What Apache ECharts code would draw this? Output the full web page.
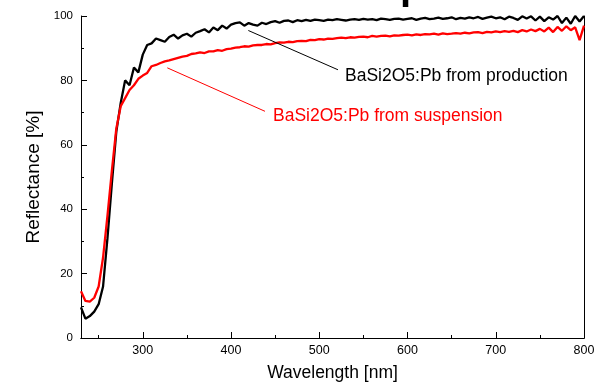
<!DOCTYPE html>
<html><head><meta charset="utf-8">
<script src="https://cdn.jsdelivr.net/npm/echarts@6/dist/echarts.min.js"></script>
<style>html,body{margin:0;padding:0;background:#fff}#c{width:602px;height:387px}</style>
</head><body><div id="c"></div>
<script>
// Wavelength [nm]
const wavelengths = [
 230,235,240,245,250,255,260,265,270,275,
 280,285,290,295,300,305,310,315,320,325,
 330,335,340,345,350,355,360,365,370,375,
 380,385,390,395,400,405,410,415,420,425,
 430,435,440,445,450,455,460,465,470,475,
 480,485,490,495,500,505,510,515,520,525,
 530,535,540,545,550,555,560,565,570,575,
 580,585,590,595,600,605,610,615,620,625,
 630,635,640,645,650,655,660,665,670,675,
 680,685,690,695,700,705,710,715,720,725,
 730,735,740,745,750,755,760,765,770,775,
 780,785,790,795,800];
// BaSi2O5:Pb from production (black)
const production = [
 9.5,6.0,6.8,8.2,10.5,16,31,48,64,73,
 80,78.5,84,82.5,88,91,91.5,93,92.5,92,
 93.5,94.2,93.0,94.0,94.5,93.6,94.8,95.3,95.9,94.9,
 96.4,95.6,97.0,96.1,97.3,97.8,98.0,97.0,97.8,97.3,
 97.0,97.9,97.5,98.1,98.4,97.9,98.5,98.6,98.1,98.7,
 98.4,98.8,98.5,98.9,98.7,98.5,98.9,98.7,99,98.8,
 98.6,98.9,99,98.8,99.1,98.9,99,98.7,99.2,99,
 98.8,99.1,99.2,98.9,99.1,99.3,98.8,99.2,99.4,99,
 99.2,99.5,99.1,99.3,99.6,99,99.4,99.2,99.6,99.3,
 99.7,99.1,99.5,99.8,99.3,99.6,99,99.8,99.4,98.8,
 99.9,99.2,99.9,98.6,99.8,98.4,99.6,98.9,100,97.8,
 99.5,97.6,100,98.3,100];
// BaSi2O5:Pb from suspension (red)
const suspension = [
 14.5,11.5,11.3,12.5,16,25,38,52,65,72,
 74.5,77,78.5,80.5,81.5,82.3,84.4,84.8,85.4,85.9,
 86.2,86.6,87,87.4,87.6,88.2,88.4,88.7,88.5,89,
 89,89.4,89.2,89.7,89.9,90.2,90.3,90.6,90.5,90.9,
 91,91,91.3,91.2,91.6,91.8,91.7,92,91.9,92.2,
 92.3,92.2,92.6,92.5,92.8,92.7,93,92.9,93.1,93.3,
 93.1,93.4,93.3,93.5,93.6,93.4,93.8,93.6,93.8,93.9,
 93.7,94,93.9,94.1,94.2,94,94.3,94.1,94.4,94.3,
 94.5,94.2,94.6,94.4,94.5,94.7,94.5,94.8,94.6,94.9,
 95,94.7,95.1,94.9,95.2,95,95.3,95.1,95.4,95,
 95.6,95.2,95.8,95.3,96,95.2,96.4,95,96.6,95.4,
 96.8,95.6,96.5,92.5,97];
const xMajorTicks = [300,400,500,600,700,800];
const xMinorTicks = [250,350,450,550,650,750];
const seriesNames = ['BaSi2O5:Pb from production','BaSi2O5:Pb from suspension'];
// leader lines for labels (data coordinates)
const productionLeader = [[419.6,95.5],[521.2,83.3]];
const suspensionLeader = [[327.8,83.9],[438.5,70.4]];

const FONT = 'Liberation Sans, Arial, sans-serif';
const X_MIN = 230, X_MAX = 800;
const chart = echarts.init(document.getElementById('c'), null, {renderer:'canvas'});
const zip = (xs, ys) => xs.map((x,i)=>[x, ys[i]]);

const baseX = {type:'value', min:X_MIN, max:X_MAX, splitLine:{show:false}};
chart.setOption({
  animation:false,
  backgroundColor:'#fff',
  grid:{left:81, right:18, top:16, bottom:48},
  xAxis:[
    Object.assign({}, baseX, {
      position:'bottom',
      name:'Wavelength [nm]', nameLocation:'middle', nameGap:26,
      nameTextStyle:{fontFamily:FONT, fontSize:17.5, color:'#000'},
      axisLine:{lineStyle:{color:'#000', width:1}},
      axisTick:{inside:true, length:6, customValues:xMajorTicks, lineStyle:{color:'#000'}},
      axisLabel:{customValues:xMajorTicks, fontFamily:FONT, fontSize:12.5, color:'#000', margin:6}
    }),
    Object.assign({}, baseX, {
      position:'top',
      axisLine:{lineStyle:{color:'#000', width:1}},
      axisTick:{show:false}, axisLabel:{show:false}
    }),
    Object.assign({}, baseX, {
      position:'bottom',
      axisLine:{show:false},
      axisTick:{inside:true, length:3, customValues:xMinorTicks, lineStyle:{color:'#000'}},
      axisLabel:{show:false}
    })
  ],
  yAxis:[
    {type:'value', min:0, max:100, interval:20, position:'left',
     name:'Reflectance [%]', nameLocation:'middle', nameGap:37,
     nameTextStyle:{fontFamily:FONT, fontSize:19, color:'#000'},
     splitLine:{show:false},
     axisLine:{show:true, lineStyle:{color:'#000', width:1}},
     axisTick:{inside:true, length:6, lineStyle:{color:'#000'}},
     minorTick:{show:true, splitNumber:2, length:3, lineStyle:{color:'#000'}},
     axisLabel:{fontFamily:FONT, fontSize:11.5, color:'#000', margin:8}
    },
    {type:'value', min:0, max:100, position:'right',
     splitLine:{show:false},
     axisLine:{show:true, lineStyle:{color:'#000', width:1}},
     axisTick:{show:false}, axisLabel:{show:false}
    }
  ],
  series:[
    {name:seriesNames[0], type:'line', data:zip(wavelengths, production), showSymbol:false,
     lineStyle:{color:'#000', width:2.3}, itemStyle:{color:'#000'},
     markLine:{silent:true, symbol:'none', label:{show:false},
       lineStyle:{color:'#000', width:1, type:'solid'},
       data:[[{coord:productionLeader[0]},{coord:productionLeader[1]}]]}
    },
    {name:seriesNames[1], type:'line', data:zip(wavelengths, suspension), showSymbol:false,
     lineStyle:{color:'#ff0000', width:2.3}, itemStyle:{color:'#ff0000'},
     markLine:{silent:true, symbol:'none', label:{show:false},
       lineStyle:{color:'#ff0000', width:1, type:'solid'},
       data:[[{coord:suspensionLeader[0]},{coord:suspensionLeader[1]}]]}
    }
  ]
});

const endP = chart.convertToPixel({xAxisIndex:0, yAxisIndex:0}, productionLeader[1]);
const endS = chart.convertToPixel({xAxisIndex:0, yAxisIndex:0}, suspensionLeader[1]);
chart.setOption({
  graphic:[
    {type:'text', x:endP[0]+7, y:endP[1]+6, style:{text:seriesNames[0], font:'17.5px '+FONT, fill:'#000', textVerticalAlign:'middle'}},
    {type:'text', x:endS[0]+8, y:endS[1]+5, style:{text:seriesNames[1], font:'17.5px '+FONT, fill:'#ff0000', textVerticalAlign:'middle'}},
    {type:'text', x:400, y:-12, style:{text:'p', font:'bold 40px '+FONT, fill:'#000', textVerticalAlign:'middle'}}
  ]
});
</script></body></html>
